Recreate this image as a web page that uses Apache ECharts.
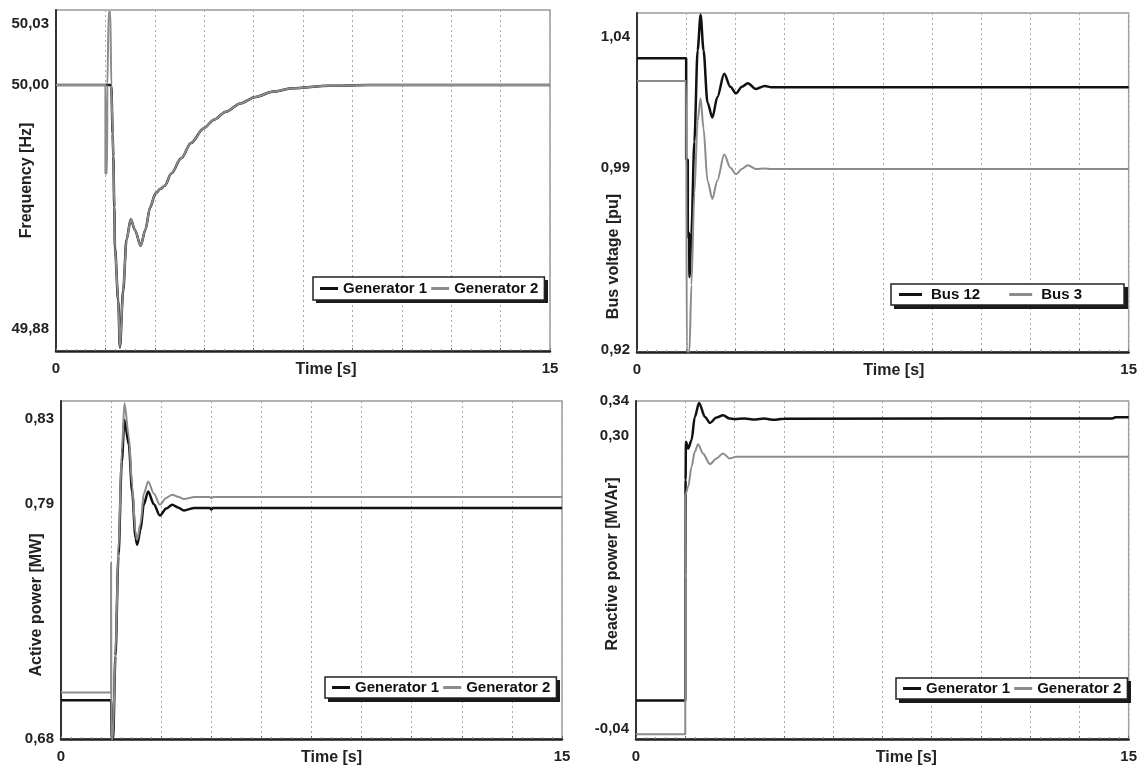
<!DOCTYPE html>
<html>
<head>
<meta charset="utf-8">
<script src="https://cdn.jsdelivr.net/npm/echarts@6/dist/echarts.min.js"></script>
<style>
html,body{margin:0;padding:0;background:#fff;}
#chart{width:1140px;height:767px;}
</style>
</head>
<body>
<div id="chart"></div>
<script>
// ---------- DATA ----------
// Panel 1: Frequency [Hz]
var freqGen1 = [[0,50.0],[1.5,50.0],[1.52,50.0],[1.6,50.0],[1.66,50.0],[1.68,49.9995],[1.72,49.976],[1.74,49.965],[1.77,49.940],[1.79,49.920],[1.89,49.894],[1.94,49.871],[2.04,49.899],[2.14,49.924],[2.27,49.934],[2.40,49.9287],[2.57,49.921],[2.71,49.9287],[2.86,49.940],[3.02,49.9467],[3.17,49.9490],[3.3,49.9505],[3.5,49.9565],[3.8,49.9640],[4.1,49.9715],[4.48,49.9787],[4.8,49.9830],[5.16,49.9869],[5.6,49.9910],[6.06,49.9942],[6.6,49.9968],[7.17,49.9984],[8.29,49.9997],[9.5,50.0],[15,50.0]];
var freqGen2 = [[0,50.0],[1.5,50.0],[1.5,49.9566],[1.55,49.9566],[1.56,50.0],[1.6,50.036],[1.65,50.036],[1.68,50.0],[1.72,49.976],[1.74,49.965],[1.77,49.940],[1.79,49.920],[1.89,49.894],[1.94,49.871],[2.04,49.899],[2.14,49.924],[2.27,49.934],[2.40,49.9287],[2.57,49.921],[2.71,49.9287],[2.86,49.940],[3.02,49.9467],[3.17,49.9490],[3.3,49.9505],[3.5,49.9565],[3.8,49.9640],[4.1,49.9715],[4.48,49.9787],[4.8,49.9830],[5.16,49.9869],[5.6,49.9910],[6.06,49.9942],[6.6,49.9968],[7.17,49.9984],[8.29,49.9997],[9.5,50.0],[15,50.0]];
// Panel 2: Bus voltage [pu]
var voltBus12 = [[0,1.0319],[1.5,1.0319],[1.5,0.993],[1.55,0.993],[1.55,0.9634],[1.59,0.965],[1.6,0.948],[1.66,0.965],[1.75,1.0],[1.85,1.035],[1.94,1.0486],[2.03,1.035],[2.15,1.015],[2.30,1.0092],[2.45,1.017],[2.66,1.026],[2.85,1.021],[3.02,1.0185],[3.2,1.021],[3.38,1.0224],[3.63,1.0202],[3.9,1.0213],[4.1,1.0208],[15,1.0208]];
var voltBus3 = [[0,1.0232],[1.5,1.0232],[1.52,0.9195],[1.6,0.9195],[1.66,0.945],[1.75,0.98],[1.85,1.008],[1.94,1.0166],[2.03,1.005],[2.15,0.985],[2.30,0.978],[2.45,0.985],[2.66,0.995],[2.85,0.990],[3.02,0.9875],[3.2,0.9895],[3.38,0.9909],[3.63,0.9895],[3.9,0.9897],[4.1,0.9895],[15,0.9895]];
// Panel 3: Active power [MW]
var pGen1 = [[0,0.6982],[1.5,0.6982],[1.52,0.68],[1.56,0.68],[1.63,0.719],[1.72,0.7657],[1.82,0.8100],[1.9,0.8295],[2.03,0.8180],[2.13,0.7960],[2.23,0.7745],[2.28,0.7711],[2.38,0.7780],[2.48,0.7900],[2.61,0.7960],[2.78,0.7900],[2.96,0.7847],[3.15,0.7880],[3.33,0.7898],[3.5,0.7885],[3.68,0.7871],[4.0,0.7883],[4.45,0.7883],[4.5,0.7876],[4.55,0.7883],[15,0.7883]];
var pGen2 = [[0,0.7018],[1.5,0.7018],[1.5,0.7626],[1.51,0.68],[1.55,0.68],[1.63,0.7200],[1.72,0.7680],[1.82,0.8150],[1.9,0.8373],[2.03,0.8220],[2.13,0.7990],[2.23,0.7770],[2.28,0.7734],[2.38,0.7810],[2.48,0.7950],[2.61,0.8007],[2.78,0.7950],[2.96,0.7898],[3.15,0.7930],[3.33,0.7945],[3.5,0.7935],[3.68,0.7925],[4.0,0.7934],[4.45,0.7934],[4.5,0.7928],[4.55,0.7934],[15,0.7934]];
// Panel 4: Reactive power [MVAr]
var qGen1 = [[0,-0.0068],[1.5,-0.0068],[1.5,0.0983],[1.5,0.1368],[1.51,0.2484],[1.52,0.2927],[1.59,0.2850],[1.69,0.2946],[1.79,0.3215],[1.92,0.3377],[2.10,0.3215],[2.25,0.3146],[2.45,0.3208],[2.65,0.3235],[2.85,0.3197],[3.0,0.3190],[3.3,0.3197],[3.6,0.3185],[3.9,0.3197],[4.2,0.3182],[4.5,0.3195],[14.5,0.3197],[14.6,0.3212],[15,0.3212]];
var qGen2 = [[0,-0.0460],[1.5,-0.0460],[1.5,0.2311],[1.59,0.2407],[1.69,0.2638],[1.79,0.2811],[1.89,0.2900],[2.04,0.2793],[2.25,0.2669],[2.45,0.2735],[2.65,0.2793],[2.85,0.2735],[3.05,0.2753],[15,0.2753]];
// Tick labels
var xTickLabels = [0, 15];
var freqTicks = [49.88, 50.00, 50.03];
var voltTicks = [0.92, 0.99, 1.04];
var pTicks = [0.68, 0.79, 0.83];
var qTicks = [-0.04, 0.30, 0.34];

// ---------- STYLE ----------
var FONT = "'Liberation Sans', Arial, sans-serif";
var BLACK = '#111111';
var GRAY = '#8c8c8c';

var grids = [
  {left:56, top:10, width:494, height:341},
  {left:637, top:13, width:494, height:339},
  {left:61, top:401, width:501, height:339},
  {left:636, top:401, width:497, height:339}
];
grids.forEach(function(g){ g.show = true; g.borderColor = '#9a9a9a'; g.borderWidth = 1.5; g.backgroundColor = '#fff'; });

function fmt(v){ return v.toFixed(2).replace('.', ','); }

function xAx(i, shift){
  return {
    type:'value', gridIndex:i, min:0, max:15, interval:1.5,
    name:'Time [s]', nameLocation:'middle', nameGap:11, nameMoveOverlap:false,
    nameTextStyle:{fontFamily:FONT, fontWeight:'bold', fontSize:16, color:'#222', padding:[0,0,0,shift*2]},
    axisLine:{show:true, onZero:false, lineStyle:{color:'#222', width:2.5}},
    axisTick:{show:true, inside:true, length:3, lineStyle:{color:'#666', width:1}},
    minorTick:{show:true, splitNumber:5, length:2, lineStyle:{color:'#888', width:1}},
    axisLabel:{customValues:xTickLabels, margin:10, fontFamily:FONT, fontWeight:'bold', fontSize:15, color:'#222',
      formatter:function(v){return String(v);}},
    splitLine:{show:true, lineStyle:{type:[2,3], color:'#aaaaaa', width:1}}
  };
}
function yAx(i, min, max, ticks, name, gap, down){
  var pad = down >= 0 ? [0, down*2, 0, 0] : [0, 0, 0, -down*2];
  return {
    type:'value', gridIndex:i, min:min, max:max,
    name:name, nameLocation:'middle', nameGap:gap, nameMoveOverlap:false,
    nameTextStyle:{fontFamily:FONT, fontWeight:'bold', fontSize:16, color:'#222', padding:pad},
    axisLine:{show:true, onZero:false, lineStyle:{color:'#333', width:2}},
    axisTick:{show:false},
    axisLabel:{customValues:ticks, margin:7, fontFamily:FONT, fontWeight:'bold', fontSize:15, color:'#222', formatter:fmt},
    splitLine:{show:false}
  };
}
function ser(name, data, i, color, width){
  return {
    name:name, type:'line', xAxisIndex:i, yAxisIndex:i, data:data,
    showSymbol:false, symbol:'none', animation:false,
    smooth:0.3, smoothMonotone:'x',
    lineStyle:{color:color, width:width}, itemStyle:{color:color}
  };
}
function leg(left, top, data, gap, padding, iconW, textPad){
  return {
    left:left, top:top, data:data, orient:'horizontal',
    icon:'rect', itemWidth:iconW, itemHeight:3, itemGap:gap,
    padding:padding, backgroundColor:'#fff', borderColor:'#222', borderWidth:1.5,
    textStyle:{fontFamily:FONT, fontWeight:'bold', fontSize:15, color:'#111', padding:[0,0,0,textPad]},
    selectedMode:false, z:10
  };
}
// legend drop shadows (decoration)
var legendBoxes = [[313,277,232,23],[891,284,234,22],[325,677,232,22],[896,678,232,22]];
var shadows = legendBoxes.map(function(b){
  return {type:'rect', left:b[0]+3, top:b[1]+3, shape:{width:b[2], height:b[3]}, style:{fill:'#1a1a1a'}, z:5, silent:true};
});

var option = {
  backgroundColor:'#fff',
  animation:false,
  grid:grids,
  graphic:shadows,
  xAxis:[xAx(0,23), xAx(1,11), xAx(2,20), xAx(3,24)],
  yAxis:[
    yAx(0, 49.8693, 50.0369, freqTicks, 'Frequency [Hz]', 21, 0),
    yAx(1, 0.9193, 1.0493, voltTicks, 'Bus voltage [pu]', 15, 74),
    yAx(2, 0.68, 0.8384, pTicks, 'Active power [MW]', 16, 35),
    yAx(3, -0.0515, 0.34, qTicks, 'Reactive power [MVAr]', 15, -6)
  ],
  legend:[
    leg(313, 277, ['Generator 1','Generator 2'], 4, [4,6,4,7], 18, 0),
    leg(891, 284, ['Bus 12','Bus 3'], 29, [3,42,3,8], 23, 4),
    leg(325, 677, ['Generator 1','Generator 2'], 4, [3,6,3,7], 18, 0),
    leg(896, 678, ['Generator 1','Generator 2'], 4, [3,6,3,7], 18, 0)
  ],
  series:[
    ser('Generator 1', freqGen1, 0, BLACK, 2.5),
    ser('Generator 2', freqGen2, 0, GRAY, 2),
    ser('Bus 12', voltBus12, 1, BLACK, 2.5),
    ser('Bus 3', voltBus3, 1, GRAY, 2),
    ser('Generator 1', pGen1, 2, BLACK, 2.5),
    ser('Generator 2', pGen2, 2, GRAY, 2),
    ser('Generator 1', qGen1, 3, BLACK, 2.5),
    ser('Generator 2', qGen2, 3, GRAY, 2)
  ]
};
var chart = echarts.init(document.getElementById('chart'), null, {renderer:'canvas'});
chart.setOption(option);
</script>
</body>
</html>
